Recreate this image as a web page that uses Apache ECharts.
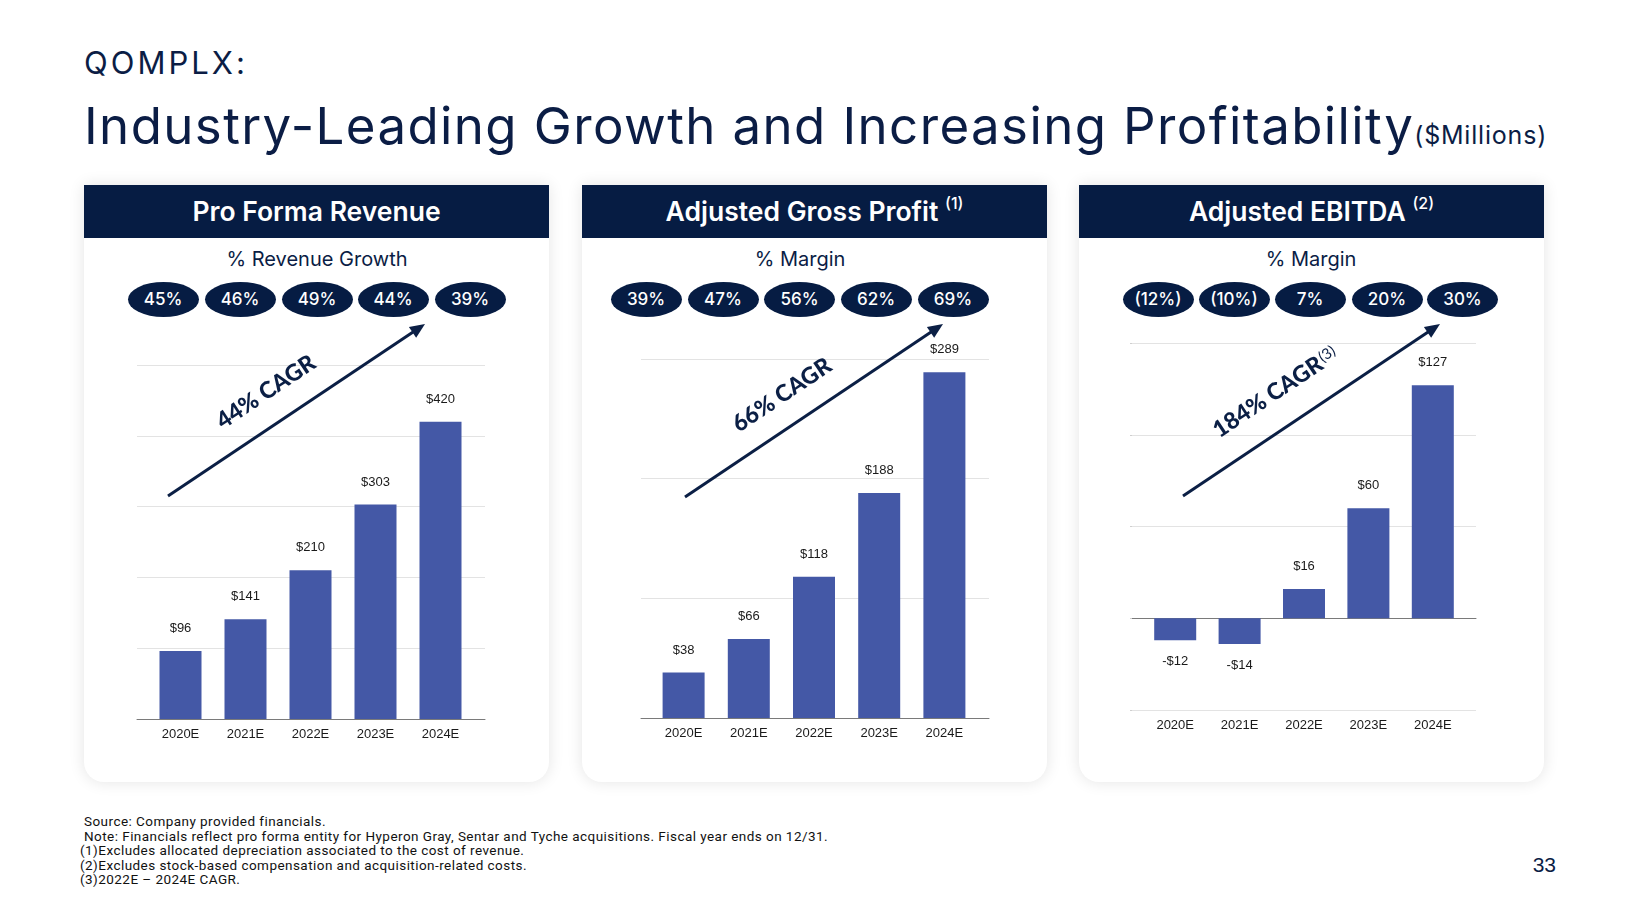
<!DOCTYPE html>
<html>
<head>
<meta charset="utf-8">
<script src="https://cdn.jsdelivr.net/npm/echarts@6/dist/echarts.min.js"></script>
<style>
  html, body { margin:0; padding:0; background:#fff; }
  #slide { position:relative; width:1634px; height:919px; background:#fff; overflow:hidden; font-family:Inter, "Noto Sans", sans-serif; color:#0b1d45; }
  .brand { position:absolute; left:84px; top:45px; font-size:31px; line-height:36px; letter-spacing:3px; font-weight:400; }
  .title { position:absolute; left:84px; top:96px; font-size:51px; line-height:60px; letter-spacing:1.4px; white-space:nowrap; font-weight:400; }
  .title .unit { font-size:25px; letter-spacing:0.8px; }
  .card { position:absolute; top:185px; width:465px; height:597px; background:#fff; border-radius:0 0 20px 20px; box-shadow:0 0 16px rgba(0,0,0,0.11); }
  .head { position:absolute; left:0; top:0; width:100%; height:53px; background:#061c43; color:#fff; font-size:26.5px; font-weight:600; line-height:53px; text-align:center; white-space:nowrap; }
  .head sup { font-size:16px; vertical-align:baseline; position:relative; top:-12px; line-height:0; font-weight:500; }
  .sub { position:absolute; top:62px; width:300px; margin-left:-150px; text-align:center; font-size:20px; line-height:24px; }
  .pill { position:absolute; width:71px; height:35px; margin-left:-35.5px; top:97px; border-radius:50%; background:#061c43; color:#fff; font-size:17px; font-weight:500; line-height:35px; text-align:center; }
  .notes { position:absolute; left:80px; top:814px; font-family:Roboto, sans-serif; font-size:13.5px; letter-spacing:0.45px; line-height:14.6px; color:#111; white-space:nowrap; }
  .pnum { position:absolute; left:1520px; width:36px; text-align:right; top:852px; font-family:"Liberation Sans", Arial, sans-serif; font-size:21px; line-height:26px; color:#0b1d45; }
  #chart { position:absolute; left:0; top:0; width:1634px; height:919px; z-index:5; }
</style>
</head>
<body>
<div id="slide">
  <div class="brand">QOMPLX:</div>
  <div class="title">Industry-Leading Growth and Increasing Profitability<span class="unit">($Millions)</span></div>
  <div id="cards"></div>
  <div class="notes" id="notes"></div>
  <div class="pnum">33</div>
  <div id="chart"></div>
</div>
<script>
// ---------- data ----------
const categories = ['2020E', '2021E', '2022E', '2023E', '2024E'];
const revenue = [96, 141, 210, 303, 420];
const grossProfit = [38, 66, 118, 188, 289];
const ebitda = [-12, -14, 16, 60, 127];
const revenueGrowth = ['45%', '46%', '49%', '44%', '39%'];
const grossMargin = ['39%', '47%', '56%', '62%', '69%'];
const ebitdaMargin = ['(12%)', '(10%)', '7%', '20%', '30%'];
const panelTitles = ['Pro Forma Revenue', 'Adjusted Gross Profit', 'Adjusted EBITDA'];
const panelNotes = ['', '(1)', '(2)'];
const panelSubtitles = ['% Revenue Growth', '% Margin', '% Margin'];
const cagrLabels = ['44% CAGR', '66% CAGR', '184% CAGR'];
const cagrNotes = ['', '', '(3)'];
const footnotes = [
  'Source: Company provided financials.',
  'Note: Financials reflect pro forma entity for Hyperon Gray, Sentar and Tyche acquisitions. Fiscal year ends on 12/31.',
  '(1)Excludes allocated depreciation associated to the cost of revenue.',
  '(2)Excludes stock-based compensation and acquisition-related costs.',
  '(3)2022E \u2013 2024E CAGR.'
];

// ---------- layout ----------
const cardLeft = [84, 582, 1079];
const subCenter = [317, 800, 1311];
const pillCenters = [[163, 240, 317, 393, 470], [646, 723, 799.5, 876, 953], [1158, 1234, 1310, 1387, 1462.5]];
const pillTexts = [revenueGrowth, grossMargin, ebitdaMargin];

const cardsEl = document.getElementById('cards');
for (let p = 0; p < 3; p++) {
  const c = document.createElement('div');
  c.className = 'card';
  c.style.left = cardLeft[p] + 'px';
  let html = '<div class="head">' + panelTitles[p] + (panelNotes[p] ? ' <sup>' + panelNotes[p] + '</sup>' : '') + '</div>';
  html += '<div class="sub" style="left:' + (subCenter[p] - cardLeft[p]) + 'px">' + panelSubtitles[p] + '</div>';
  for (let i = 0; i < 5; i++) {
    html += '<div class="pill" style="left:' + (pillCenters[p][i] - cardLeft[p]) + 'px">' + pillTexts[p][i] + '</div>';
  }
  c.innerHTML = html;
  cardsEl.appendChild(c);
}
const notesEl = document.getElementById('notes');
notesEl.innerHTML = footnotes.map((t, i) => '<div style="padding-left:' + (i < 2 ? 4 : 0) + 'px">' + t + '</div>').join('');

// ---------- chart ----------
const chart = echarts.init(document.getElementById('chart'), null, { renderer: 'canvas' });
const BAR = '#4458a6';
const NAVY = '#0b1f45';
const barGrids = [
  { left: 148, top: 365, width: 325, height: 354 },
  { left: 651, top: 359, width: 326, height: 359 },
  { left: 1143, top: 343, width: 322, height: 367 }
];
const bgGrids = [
  { left: 137, top: 365, width: 348, height: 354 },
  { left: 641, top: 359, width: 348, height: 359 },
  { left: 1132, top: 343, width: 344, height: 367 }
];
const scales = [
  { min: 0, max: 500, interval: 100 },
  { min: 0, max: 300, interval: 100 },
  { min: -50, max: 150, interval: 50 }
];
const seriesData = [revenue, grossProfit, ebitda];

const grid = [], xAxis = [], yAxis = [], series = [];
for (let p = 0; p < 3; p++) {
  grid.push(barGrids[p]);
  grid.push(bgGrids[p]);
  const gi = grid.length - 2;
  xAxis.push({
    type: 'category', gridIndex: gi, data: categories,
    axisLine: { show: false, onZero: false }, axisTick: { show: false },
    axisLabel: { margin: 9, fontSize: 13, color: '#1a1a1a', fontFamily: '"Liberation Sans", Arial, sans-serif' },
    splitLine: { show: false }
  });
  yAxis.push({ type: 'value', gridIndex: gi, min: scales[p].min, max: scales[p].max, interval: scales[p].interval, show: false });
  xAxis.push({
    type: 'value', gridIndex: gi + 1, min: 0, max: 1,
    axisLine: { show: true, onZero: true, lineStyle: { color: '#7a7a7a', width: 1 } },
    axisTick: { show: false }, axisLabel: { show: false }, splitLine: { show: false }
  });
  yAxis.push({
    type: 'value', gridIndex: gi + 1, min: scales[p].min, max: scales[p].max, interval: scales[p].interval,
    axisLine: { show: false }, axisLabel: { show: false },
    axisTick: { show: p === 2, length: 2, lineStyle: { color: '#cfcfcf' } }, offset: p === 2 ? 3 : 0,
    splitLine: { show: true, lineStyle: { color: '#e3e3e3', width: 1 } }
  });
  series.push({
    type: 'bar', xAxisIndex: gi, yAxisIndex: gi, barWidth: 42,
    itemStyle: { color: BAR },
    label: {
      show: true, position: 'top', distance: 16, fontSize: 13, color: '#1a1a1a',
      fontFamily: '"Liberation Sans", Arial, sans-serif',
      formatter: (d) => (d.value < 0 ? '-$' + Math.abs(d.value) : '$' + d.value)
    },
    data: seriesData[p].map(v => v < 0 ? { value: v, label: { position: 'bottom', distance: 15 } } : v)
  });
}

// annotation arrows and CAGR text
const arrows = [
  [168, 496, 425, 324],
  [685, 497, 943, 324],
  [1183, 496, 1440, 324]
];
const cagrPos = [[266, 392], [782, 395], [1268, 397]];
const graphic = [];
arrows.forEach((a, p) => {
  const [x1, y1, x2, y2] = a;
  const ang = Math.atan2(y2 - y1, x2 - x1);
  const L = 15, W = 6.5;
  const bx = x2 - L * Math.cos(ang), by = y2 - L * Math.sin(ang);
  graphic.push({ type: 'line', shape: { x1, y1, x2: bx + 2 * Math.cos(ang), y2: by + 2 * Math.sin(ang) }, style: { stroke: NAVY, lineWidth: 3 }, z: 10 });
  graphic.push({
    type: 'polygon', shape: { points: [[x2, y2], [bx - W * Math.sin(ang), by + W * Math.cos(ang)], [bx + W * Math.sin(ang), by - W * Math.cos(ang)]] },
    style: { fill: NAVY }, z: 10
  });
  const rot = -ang;
  graphic.push({
    type: 'text', x: cagrPos[p][0], y: cagrPos[p][1], rotation: rot, z: 10,
    style: { text: cagrLabels[p], fill: NAVY, font: '900 23px Lato, "Open Sans", sans-serif', textAlign: 'center', textVerticalAlign: 'middle' }
  });
  if (cagrNotes[p]) {
    graphic.push({
      type: 'text', x: 1327, y: 354, rotation: rot, z: 10,
      style: { text: cagrNotes[p], fill: NAVY, font: '400 15px Lato, sans-serif', textAlign: 'center', textVerticalAlign: 'middle' }
    });
  }
});

chart.setOption({
  backgroundColor: 'transparent',
  animation: false,
  grid, xAxis, yAxis, series, graphic
});
</script>
</body>
</html>
